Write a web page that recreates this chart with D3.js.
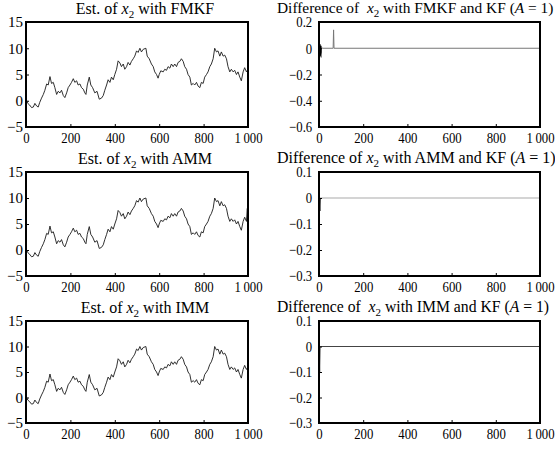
<!DOCTYPE html>
<html>
<head>
<meta charset="utf-8">
<script src="https://cdn.jsdelivr.net/npm/d3@7"></script>
<style>
  body { margin: 0; background: #fff; }
  text { font-family: "Liberation Serif", "Times New Roman", serif; fill: #000; }
</style>
</head>
<body>
<div id="chart"></div>
<script>
// step index of the read-off points
var steps = [0,8,16,25,33,40,48,55,62,70,78,85,93,100,108,115,123,130,138,145,153,160,168,175,183,190,198,205,213,220,228,235,243,250,258,265,270,276,285,292,300,310,320,330,340,348,355,363,370,378,385,393,400,408,415,423,430,438,445,453,460,468,475,483,490,498,505,513,520,528,540,546,555,565,573,580,588,595,600,607,618,625,633,640,648,655,663,670,678,685,693,700,708,715,723,730,738,745,753,760,768,775,783,790,798,805,813,820,828,835,843,850,858,865,873,880,888,895,903,910,918,925,933,940,948,955,963,970,978,985,993,1000];
// estimate of x2 (FMKF / AMM / IMM are visually the same)
var x2Est = [0.3,-0.5,-0.8,-1.3,-1.2,-0.5,-1.0,-1.2,-0.3,0.5,1.2,2.0,3.2,3.0,4.6,3.3,3.5,2.5,1.2,1.8,1.5,2.0,1.0,0.6,1.5,2.5,3.0,3.5,4.2,3.5,3.8,3.0,3.2,2.5,2.2,1.5,1.2,3.0,4.5,3.0,2.5,1.5,1.8,0.3,0.5,1.0,2.0,3.0,4.0,3.5,4.5,4.0,5.0,6.0,7.6,7.2,6.5,7.0,6.0,6.5,7.3,6.8,7.5,8.0,8.5,9.5,9.2,10.0,9.3,9.8,10.0,8.5,8.0,7.0,6.5,5.5,5.0,4.3,5.0,5.7,5.5,6.0,5.8,6.5,6.2,7.0,6.5,7.0,6.5,7.3,7.5,8.0,7.5,6.5,6.0,5.0,4.5,3.0,3.3,3.0,3.5,2.8,2.5,3.5,3.3,4.5,5.0,5.5,6.5,7.0,8.0,10.0,9.3,9.5,8.5,9.3,8.5,8.7,8.0,6.5,5.5,6.0,5.5,5.8,5.0,5.5,4.5,3.8,5.5,6.3,5.5,6.0];
// AMM estimate jumps at the very last steps
var ammTailSteps = [997, 1000];
var ammTailVals = [8.0, 2.0];

// differences against KF
var fmkfDiffSteps = [0, 5, 10, 11, 13, 15, 64, 66, 68, 1000];
var fmkfDiffVals  = [0, 0.01, -0.07, 0.0, 0.005, 0, 0, 0.14, 0, 0];
var fmkfBlobSteps = [2, 2, 6, 6];
var fmkfBlobVals  = [0.03, -0.06, -0.03, 0.02];
var ammDiffSteps = [0, 4, 6, 1000];
var ammDiffVals  = [0, -0.05, 0, 0];
var immDiffSteps = [0, 3, 5, 1000];
var immDiffVals  = [0, -0.1, 0, 0];

var xTicks = [0, 200, 400, 600, 800, 1000];
var estYTicks = [-5, 0, 5, 10, 15];
var fmkfYTicks = [-0.6, -0.4, -0.2, 0, 0.2];
var diffYTicks = [-0.3, -0.2, -0.1, 0, 0.1];

var W = 555, H = 450;
var svg = d3.select("#chart").append("svg").attr("width", W).attr("height", H);

function fmt(v) {
  if (v === 1000) return "1\u2009000";
  var s = String(Math.round(v * 10) / 10);
  return s.replace("-", "\u2212");
}

function zip(a, b) { return a.map(function(s, i) { return [s, b[i]]; }); }

function title(x, y, size, pre, post, italicA) {
  var t = svg.append("text").attr("x", x).attr("y", y).style("font-size", size + "px")
    .attr("text-anchor", italicA ? "start" : "middle");
  t.append("tspan").text(pre);
  t.append("tspan").style("font-style", "italic").text("x");
  t.append("tspan").attr("dy", 4).style("font-size", "11px").text("2");
  if (italicA) {
    t.append("tspan").attr("dy", -4).text(post + " (");
    t.append("tspan").style("font-style", "italic").text("A");
    t.append("tspan").text(" = 1)");
  } else {
    t.append("tspan").attr("dy", -4).text(post);
  }
}

function panel(box, yDomain, yTicks, series, color, width) {
  var x = d3.scaleLinear().domain([0, 1000]).range([box.l, box.r]);
  var y = d3.scaleLinear().domain(yDomain).range([box.b, box.t]);
  var g = svg.append("g");
  var id = "clip" + Math.round(box.l) + "_" + Math.round(box.t);
  g.append("clipPath").attr("id", id).append("rect")
    .attr("x", box.l).attr("y", box.t).attr("width", box.r - box.l).attr("height", box.b - box.t);

  var line = d3.line().x(function(d) { return x(d[0]); }).y(function(d) { return y(d[1]); });
  series.forEach(function(s) {
    g.append("path").attr("d", line(s.data)).attr("clip-path", "url(#" + id + ")")
      .attr("fill", "none").attr("stroke", s.color || color).attr("stroke-width", s.width || width);
  });

  // inward ticks, bottom and left
  var xa = g.append("g").attr("transform", "translate(0," + box.b + ")")
    .call(d3.axisBottom(x).tickValues(xTicks).tickSize(-3).tickPadding(4).tickFormat(fmt));
  var ya = g.append("g").attr("transform", "translate(" + box.l + ",0)")
    .call(d3.axisLeft(y).tickValues(yTicks).tickSize(-3).tickPadding(box.pad).tickFormat(fmt));
  [xa, ya].forEach(function(a) {
    a.select(".domain").remove();
    a.selectAll("line").attr("stroke", "#000");
    a.selectAll("text").style("font-family", "Liberation Serif, serif").style("font-size", "15px").attr("fill", "#000");
  });
  xa.selectAll("text").attr("dy", "0.8em").attr("transform", "scale(0.85,1)");
  if (box.sx) ya.selectAll("text").attr("transform", "scale(" + box.sx + ",1)");

  g.append("rect").attr("x", box.l).attr("y", box.t).attr("width", box.r - box.l).attr("height", box.b - box.t)
    .attr("fill", "none").attr("stroke", "#000").attr("stroke-width", 2);
}

var rows = [
  { t: 22, b: 127, name: "FMKF", ty: 13, size: 15.4 },
  { t: 172, b: 276, name: "AMM", ty: 163, size: 16 },
  { t: 321, b: 423, name: "IMM", ty: 312, size: 15.7 }
];

var est = zip(steps, x2Est);
var estAmm = zip(steps.slice(0, -1), x2Est.slice(0, -1)).concat(zip(ammTailSteps, ammTailVals));

rows.forEach(function(r, i) {
  var left = { l: 26, r: 248, t: r.t, b: r.b, pad: 3 };
  var right = { l: 319, r: 540, t: r.t, b: r.b, pad: 8, sx: 0.85 };
  panel(left, [-5, 15], estYTicks, [{ data: i === 1 ? estAmm : est }], "#1a1a1a", 0.9);
  title(145, r.ty + 1, 16, "Est. of ", " with " + r.name, false);
  if (i === 0) {
    panel(right, [-0.6, 0.2], fmkfYTicks, [
      { data: zip(fmkfDiffSteps, fmkfDiffVals) },
      { data: zip(fmkfBlobSteps, fmkfBlobVals), color: "#000", width: 2.5 }
    ], "#777", 1);
  } else if (i === 1) {
    panel(right, [-0.3, 0.1], diffYTicks, [
      { data: zip(ammDiffSteps, ammDiffVals) },
      { data: zip(ammDiffSteps.slice(0, 3), ammDiffVals.slice(0, 3)), color: "#333", width: 1 }
    ], "#aaa", 1.2);
  } else {
    panel(right, [-0.3, 0.1], diffYTicks, [{ data: zip(immDiffSteps, immDiffVals) }], "#444", 1);
  }
  var pre = i === 1 ? "Difference of " : "Difference of\u00a0 ";
  title(277, r.ty, r.size, pre, " with " + r.name + " and KF", true);
});
</script>
</body>
</html>
